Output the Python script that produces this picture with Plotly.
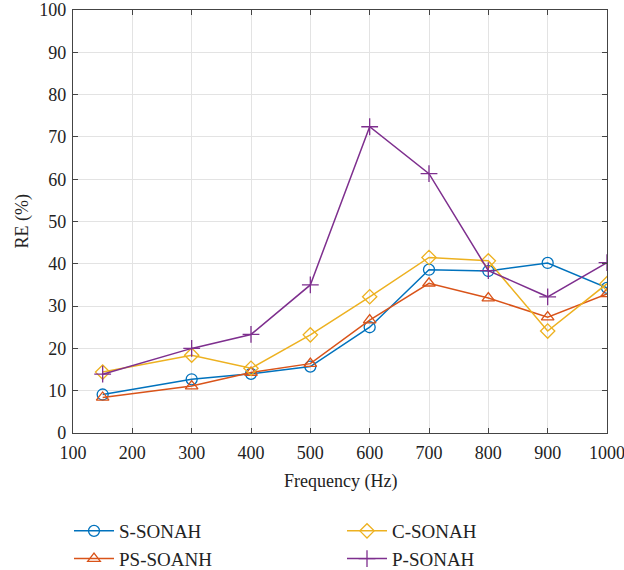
import plotly.graph_objects as go

freq = [150, 300, 400, 500, 600, 700, 800, 900, 1000]
s_sonah = [9.1, 12.7, 14.0, 15.7, 25.0, 38.6, 38.3, 40.2, 34.3]
ps_soanh = [8.4, 11.1, 14.3, 16.4, 26.7, 35.4, 31.9, 27.4, 32.9]
c_sonah = [14.4, 18.4, 15.3, 23.2, 32.2, 41.5, 40.7, 24.1, 35.3]
p_sonah = [13.9, 20.0, 23.3, 35.0, 72.4, 61.3, 38.4, 32.2, 40.3]

series = [
    ("S-SONAH", s_sonah, "#0072BD", "circle-open", "legend"),
    ("PS-SOANH", ps_soanh, "#D95319", "triangle-up-open", "legend"),
    ("C-SONAH", c_sonah, "#EDB120", "diamond-open", "legend2"),
    ("P-SONAH", p_sonah, "#7E2F8E", "cross-thin-open", "legend2"),
]

x_ticks = [100, 200, 300, 400, 500, 600, 700, 800, 900, 1000]
y_ticks = [0, 10, 20, 30, 40, 50, 60, 70, 80, 90, 100]

W, H = 624, 570
ML, MR, MT, MB = 73, 17, 10, 137
PW, PH = W - ML - MR, H - MT - MB

fig = go.Figure()
for name, vals, color, sym, leg in series:
    fig.add_trace(go.Scatter(
        x=freq, y=vals, name=name, mode="lines+markers", legend=leg,
        line=dict(color=color, width=1.5),
        marker=dict(symbol=sym, size=11 if sym != "cross-thin-open" else 12,
                    color=color, line=dict(color=color, width=1.3)),
    ))

font = "'Liberation Serif', 'Times New Roman', serif"
axis_common = dict(
    showline=True, linecolor="#444444", linewidth=1.2, mirror="allticks",
    ticks="inside", ticklen=5, tickcolor="#444444",
    showgrid=True, gridcolor="#e3e3e3", gridwidth=1, zeroline=False,
    tickfont=dict(family=font, size=18, color="#222222"),
    ticklabeloverflow="allow",
)

legend_common = dict(
    orientation="v", xref="container", yref="container",
    xanchor="left", yanchor="top", y=1 - 512 / H,
    font=dict(family=font, size=19, color="#222222"),
    tracegroupgap=0, itemwidth=40, bgcolor="rgba(0,0,0,0)",
)

fig.update_layout(
    width=W, height=H,
    margin=dict(l=ML, r=MR, t=MT, b=MB, autoexpand=False),
    paper_bgcolor="white", plot_bgcolor="white",
    font=dict(family=font, color="#222222"),
    xaxis=dict(range=[100, 1000], tickvals=x_ticks, ticklabelstandoff=3, **axis_common),
    yaxis=dict(range=[0, 100], tickvals=y_ticks, ticklabelstandoff=2, **axis_common),
    legend=dict(x=69 / W, **legend_common),
    legend2=dict(x=342 / W, **legend_common),
    showlegend=True,
    annotations=[
        dict(text="Frequency (Hz)", xref="paper", yref="paper",
             x=0.5, y=(H - MB - 481) / PH, xanchor="center", yanchor="middle",
             showarrow=False, font=dict(family=font, size=18, color="#222222")),
        dict(text="RE (%)", xref="paper", yref="paper",
             x=(22 - ML) / PW, y=0.5, xanchor="center", yanchor="middle", textangle=-90,
             showarrow=False, font=dict(family=font, size=18, color="#222222")),
    ],
)

fig.write_html("out.html")
